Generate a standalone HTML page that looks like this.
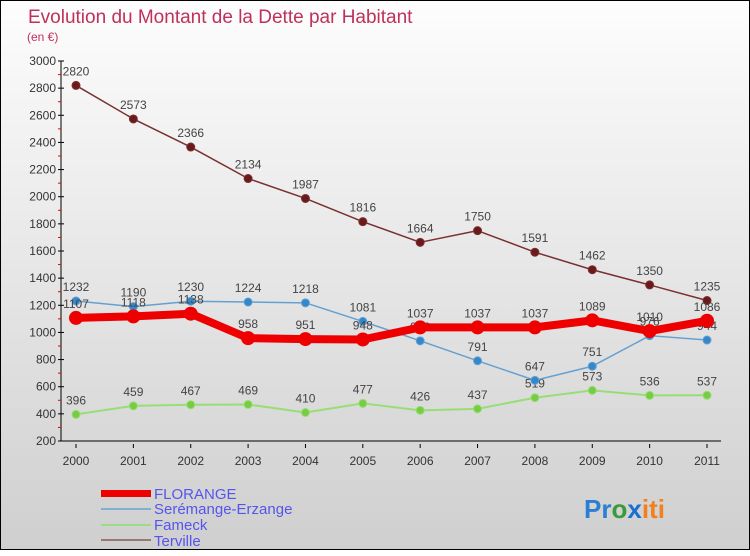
<!DOCTYPE html>
<html><head><meta charset="utf-8"><style>
body{margin:0;width:750px;height:550px;overflow:hidden}
#c{position:absolute;left:0;top:0;width:748px;height:548px;border:1px solid #000;background:linear-gradient(#fdfdfd,#cfcfcf)}
svg text{font-family:"Liberation Sans",sans-serif}
</style></head><body>
<div id="c">
<svg id="s" width="750" height="550">
<text x="27" y="22" font-size="19" fill="#c0305a">Evolution du Montant de la Dette par Habitant</text>
<text x="26" y="40" font-size="12" fill="#c0305a">(en €)</text>
<g id="axes"></g><g id="series"></g>
<g>
<rect x="100" y="489" width="50" height="7" fill="#e00"/>
<text x="153" y="498" font-size="15" fill="#5555ee">FLORANGE</text>
<line x1="100" y1="508" x2="150" y2="508" stroke="#7fb0d0" stroke-width="2"/>
<text x="153" y="513" font-size="15" fill="#5555ee">Serémange-Erzange</text>
<line x1="100" y1="524" x2="150" y2="524" stroke="#99dd88" stroke-width="2"/>
<text x="153" y="529" font-size="15" fill="#5555ee">Fameck</text>
<line x1="100" y1="539" x2="150" y2="539" stroke="#997777" stroke-width="2"/>
<text x="153" y="545" font-size="15" fill="#5555ee">Terville</text>
</g>
<text x="583" y="517" font-size="26" font-weight="bold"><tspan fill="#2a7fd0">Pr</tspan><tspan fill="#3a9a3a">o</tspan><tspan fill="#1a6fd0">x</tspan><tspan fill="#f08020">iti</tspan></text>
</svg></div>
<script>
const years=[2000,2001,2002,2003,2004,2005,2006,2007,2008,2009,2010,2011];
const yTicks=[200,400,600,800,1000,1200,1400,1600,1800,2000,2200,2400,2600,2800,3000];
const florange=[1107,1118,1138,958,951,948,1037,1037,1037,1089,1010,1086];
const seremange=[1232,1190,1230,1224,1218,1081,938,791,647,751,976,944];
const fameck=[396,459,467,469,410,477,426,437,519,573,536,537];
const terville=[2820,2573,2366,2134,1987,1816,1664,1750,1591,1462,1350,1235];
const NS="http://www.w3.org/2000/svg";
const X=i=>75+i*(706-75)/11;
const Y=v=>440-(v-200)*380/2800;
function mk(t,a,p){const e=document.createElementNS(NS,t);for(const k in a)e.setAttribute(k,a[k]);p.appendChild(e);return e;}
const ax=document.getElementById('axes');
const yl=mk('line',{x1:60,y1:60,x2:60,y2:440,stroke:'#000'},ax);

const xl=mk('line',{x1:60,y1:440,x2:720,y2:440,stroke:'#000'},ax);

yTicks.forEach((v,i)=>{mk('line',{x1:57,y1:Y(v),x2:63,y2:Y(v),stroke:'#000'},ax);
 if(i<yTicks.length-1)mk('line',{x1:57,y1:Y(v+100),x2:60,y2:Y(v+100),stroke:'#e00'},ax);
 const t=mk('text',{x:55,y:Y(v)+4,'font-size':12,'text-anchor':'end',fill:'#333'},ax);t.textContent=v;
 });
years.forEach((y,i)=>{mk('line',{x1:X(i),y1:443,x2:X(i),y2:447,stroke:'#000'},ax);
 const t=mk('text',{x:X(i),y:464,'font-size':12,'text-anchor':'middle',fill:'#333'},ax);t.textContent=y;
 });
const sg=document.getElementById('series');
function series(name,vals,color,w,r,dot){
 const g=mk('g',{},sg);
 const l=mk('polyline',{points:vals.map((v,i)=>X(i)+','+Y(v)).join(' '),fill:'none',stroke:color,'stroke-width':w,'stroke-linejoin':'round'},g);
 
 vals.forEach((v,i)=>{const c=mk('circle',{cx:X(i),cy:Y(v),r:r,fill:dot,stroke:color==dot?'none':color},g);
  
  const t=mk('text',{x:X(i),y:Y(v)-10,'font-size':12,'text-anchor':'middle',fill:'#444'},g);t.textContent=v;
  });
}
series('terville',terville,'#7a3030',1.5,4,'#6a1a1a');
series('fameck',fameck,'#99dd77',2,4,'#77cc44');
series('seremange',seremange,'#66a0d0',1.5,4,'#3388cc');
series('florange',florange,'#ee0000',8,7,'#ee0000');
</script></body></html>
